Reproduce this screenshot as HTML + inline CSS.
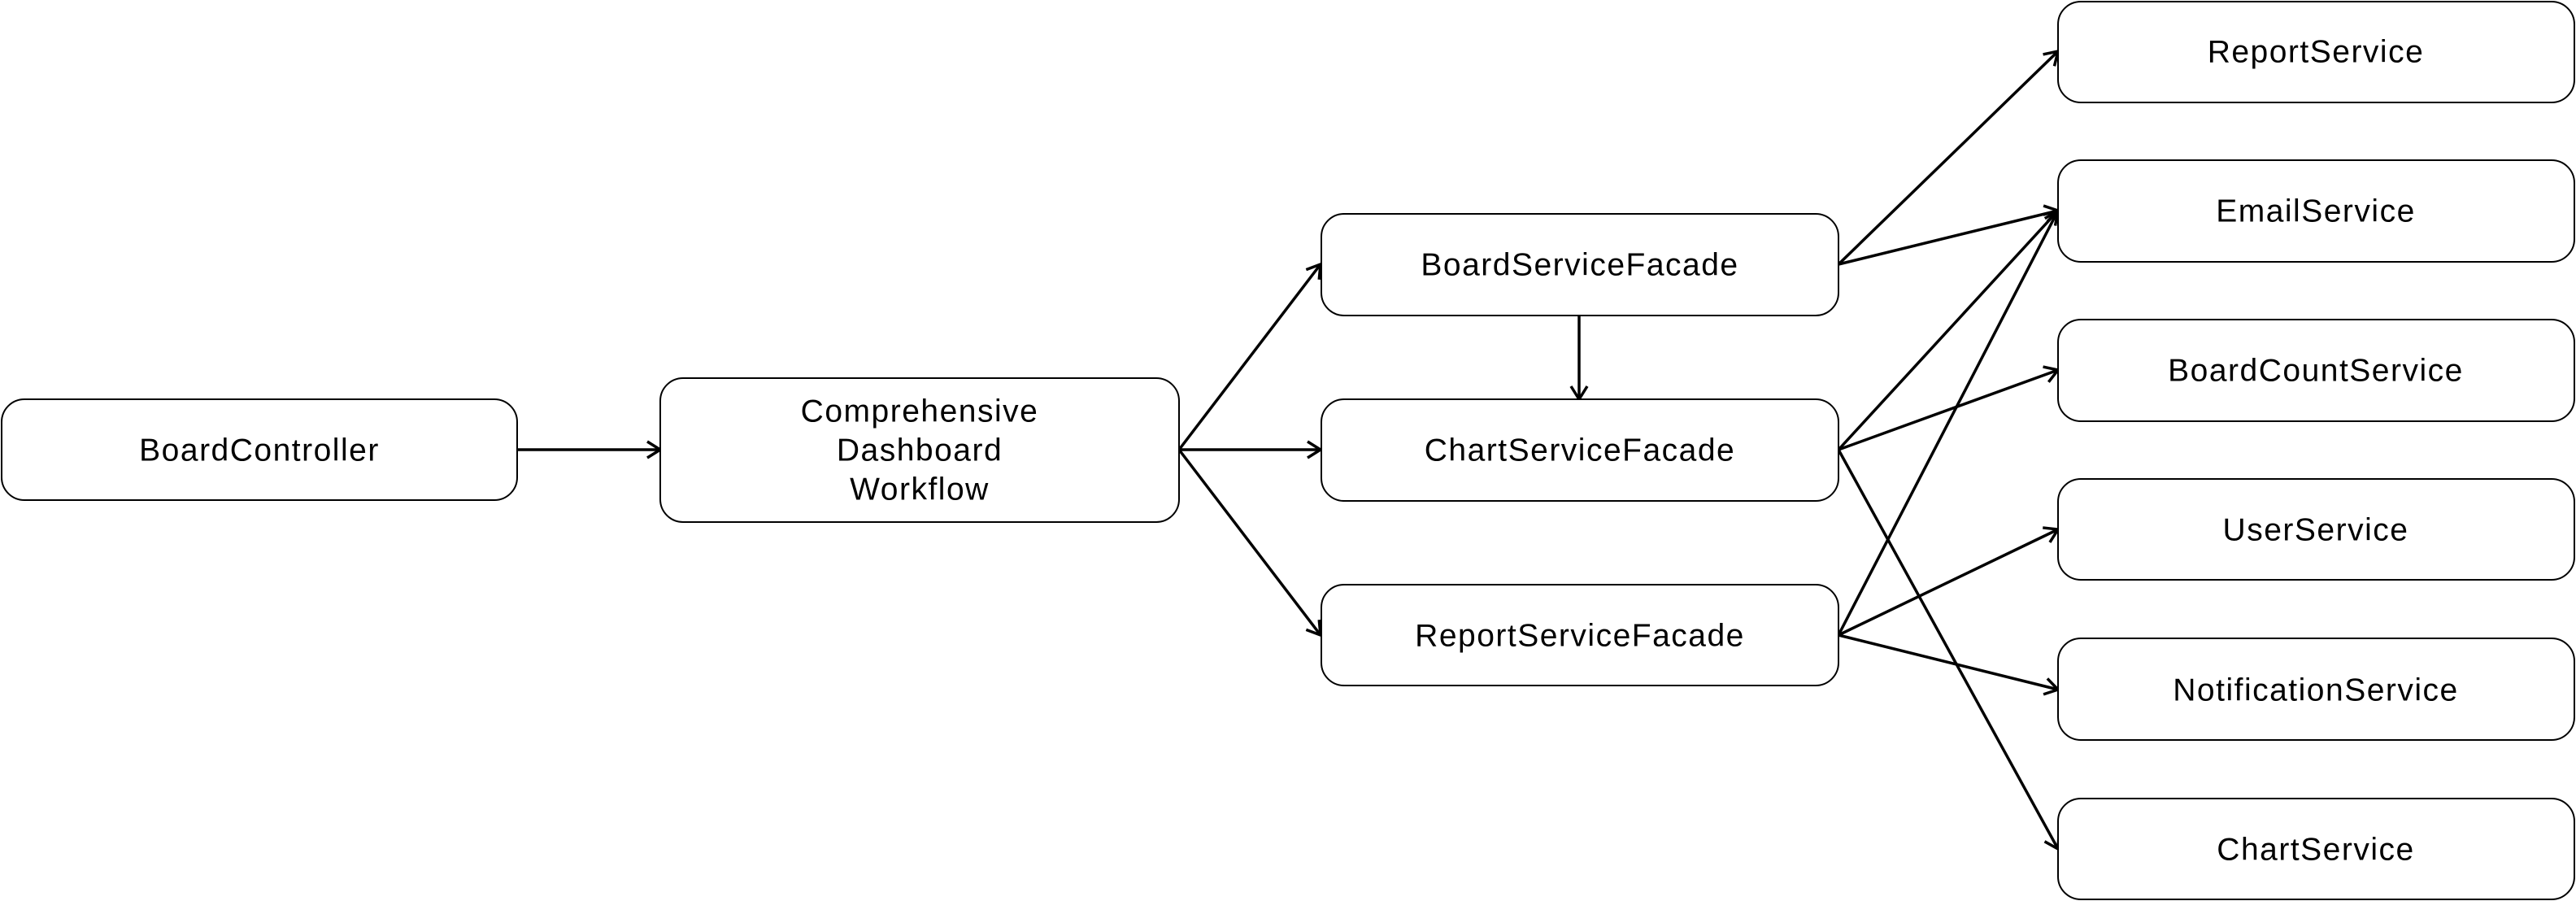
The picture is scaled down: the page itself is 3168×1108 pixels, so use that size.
<!DOCTYPE html>
<html><head><meta charset="utf-8"><style>
html,body{margin:0;padding:0;background:#fff;}
svg{display:block;}
text{font-family:"Liberation Sans",sans-serif;font-size:39px;letter-spacing:1.5px;fill:#000;text-anchor:middle;dominant-baseline:central;}
rect{fill:#fff;stroke:#000;stroke-width:2;}
line{stroke:#000;stroke-width:3.5;}
</style></head><body>
<svg width="3168" height="1108" viewBox="0 0 3168 1108" xmlns="http://www.w3.org/2000/svg">
<defs>
<marker id="a" markerWidth="24" markerHeight="24" refX="20" refY="12" orient="auto" markerUnits="userSpaceOnUse">
<path d="M4,2 L20,12 L4,22" fill="none" stroke="#000" stroke-width="3.5"/>
</marker>
</defs>
<g marker-end="url(#a)">
<line x1="636" y1="553" x2="812" y2="553"/>
<line x1="1450" y1="553" x2="1624" y2="325"/>
<line x1="1450" y1="553" x2="1624" y2="553"/>
<line x1="1450" y1="553" x2="1624" y2="781"/>
<line x1="1942" y1="388" x2="1942" y2="491"/>
<line x1="2261" y1="325" x2="2531" y2="63"/>
<line x1="2261" y1="325" x2="2531" y2="259"/>
<line x1="2261" y1="553" x2="2531" y2="259"/>
<line x1="2261" y1="553" x2="2531" y2="455"/>
<line x1="2261" y1="553" x2="2531" y2="1044"/>
<line x1="2261" y1="781" x2="2531" y2="259"/>
<line x1="2261" y1="781" x2="2531" y2="651"/>
<line x1="2261" y1="781" x2="2531" y2="848"/>
</g>
<rect x="2" y="491" width="634" height="124" rx="28"/>
<text x="319" y="554">BoardController</text>
<rect x="812" y="465" width="638" height="177" rx="28"/>
<text x="1131" y="506">Comprehensive</text>
<text x="1131" y="554">Dashboard</text>
<text x="1131" y="602">Workflow</text>
<rect x="1625" y="263" width="636" height="125" rx="28"/>
<text x="1943" y="326">BoardServiceFacade</text>
<rect x="1625" y="491" width="636" height="125" rx="28"/>
<text x="1943" y="554">ChartServiceFacade</text>
<rect x="1625" y="719" width="636" height="124" rx="28"/>
<text x="1943" y="782">ReportServiceFacade</text>
<rect x="2531" y="2" width="635" height="124" rx="28"/>
<text x="2848" y="64">ReportService</text>
<rect x="2531" y="197" width="635" height="125" rx="28"/>
<text x="2848" y="260">EmailService</text>
<rect x="2531" y="393" width="635" height="125" rx="28"/>
<text x="2848" y="456">BoardCountService</text>
<rect x="2531" y="589" width="635" height="124" rx="28"/>
<text x="2848" y="652">UserService</text>
<rect x="2531" y="785" width="635" height="125" rx="28"/>
<text x="2848" y="849">NotificationService</text>
<rect x="2531" y="982" width="635" height="124" rx="28"/>
<text x="2848" y="1045">ChartService</text>
</svg>
</body></html>
